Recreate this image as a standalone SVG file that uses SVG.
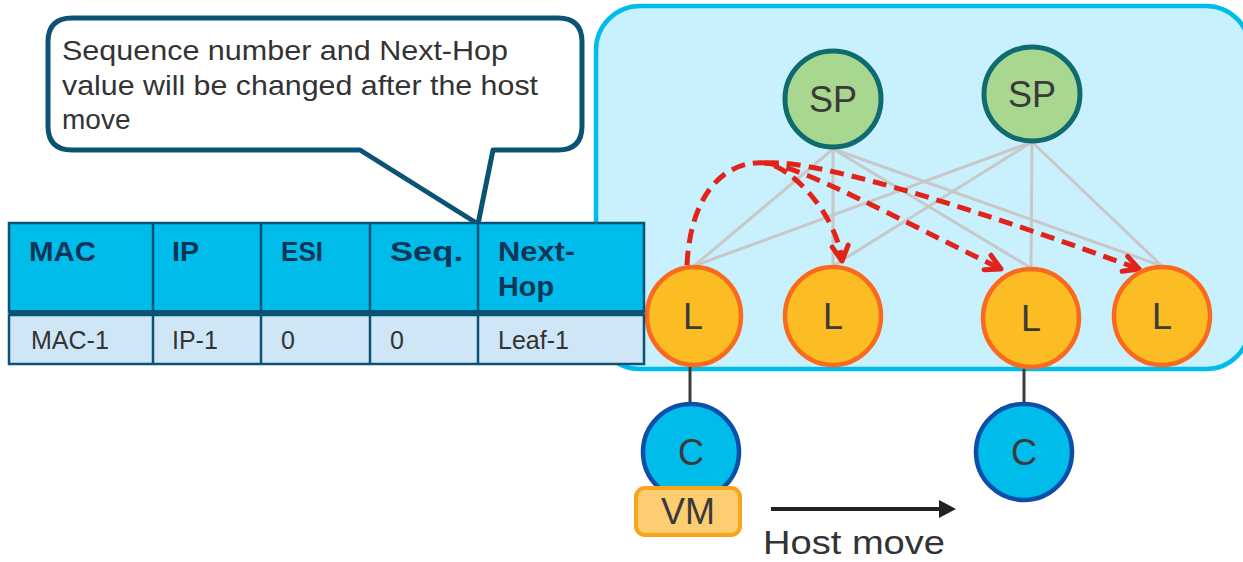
<svg xmlns="http://www.w3.org/2000/svg" width="1243" height="562" viewBox="0 0 1243 562">
<defs>
<style>
.txt{font-family:"Liberation Sans",Arial,sans-serif;fill:#333333}
.node{font-family:"Liberation Sans",Arial,sans-serif;fill:#3a3a3a;font-size:36px;text-anchor:middle}
.gray{stroke:#c8c8c8;stroke-width:3;fill:none}
.red{stroke:#e2231a;stroke-width:5;fill:none;stroke-dasharray:14 8}
.hdr{font-family:"Liberation Sans",Arial,sans-serif;fill:#0d3556;font-size:27px;font-weight:bold}
.cell{font-family:"Liberation Sans",Arial,sans-serif;fill:#333333;font-size:25px}
.sp{fill:#a8d88f;stroke:#0e6b70;stroke-width:5}
.leaf{fill:#fbbc24;stroke:#fa6a1e;stroke-width:4.5}
.cli{fill:#00bceb;stroke:#0b4faa;stroke-width:4.5}
</style>
<marker id="redArrow" markerUnits="userSpaceOnUse" markerWidth="40" markerHeight="40" refX="0" refY="0" orient="auto" overflow="visible">
<path d="M -15 -8 L 0 0 L -15 8" fill="none" stroke="#e2231a" stroke-width="5" stroke-linecap="round" stroke-linejoin="round"/>
</marker>
</defs>

<g id="fabric">
<rect x="596" y="6" width="654" height="363" rx="44" ry="44" fill="#c8f1fd" stroke="#00bceb" stroke-width="4.5"/>
</g>

<g id="connectors">
<line class="gray" x1="833" y1="149" x2="694" y2="266"/>
<line class="gray" x1="833" y1="149" x2="833" y2="266"/>
<line class="gray" x1="833" y1="149" x2="1031" y2="268"/>
<line class="gray" x1="833" y1="149" x2="1162" y2="266"/>
<line class="gray" x1="1032" y1="142" x2="694" y2="266"/>
<line class="gray" x1="1032" y1="142" x2="833" y2="266"/>
<line class="gray" x1="1032" y1="142" x2="1031" y2="268"/>
<line class="gray" x1="1032" y1="142" x2="1162" y2="266"/>
<line x1="690" y1="366" x2="690" y2="402" stroke="#3a3a3a" stroke-width="3"/>
<line x1="1024" y1="368" x2="1024" y2="402" stroke="#3a3a3a" stroke-width="3"/>
<path class="red" d="M 687 265 C 690 200, 720 160, 765 163 C 790 166, 836 212, 842 261" marker-end="url(#redArrow)"/>
<path class="red" d="M 765 163 C 800 165, 900 220, 1001 269" marker-end="url(#redArrow)"/>
<path class="red" d="M 765 163 C 820 158, 1000 218, 1139 269" marker-end="url(#redArrow)"/>
<line x1="771" y1="509" x2="943" y2="509" stroke="#222222" stroke-width="4"/>
<polygon points="939,500 956,509 939,518" fill="#222222"/>
</g>

<g id="sp1"><ellipse class="sp" cx="833" cy="99" rx="48" ry="48"/><text class="node" x="833" y="112">SP</text></g>
<g id="sp2"><ellipse class="sp" cx="1032" cy="94" rx="48" ry="47"/><text class="node" x="1032" y="107">SP</text></g>

<g id="leaf1"><ellipse class="leaf" cx="694" cy="316" rx="47" ry="49"/><text class="node" x="693" y="329">L</text></g>
<g id="leaf2"><ellipse class="leaf" cx="833" cy="316" rx="48" ry="49"/><text class="node" x="833" y="329">L</text></g>
<g id="leaf3"><ellipse class="leaf" cx="1031" cy="318" rx="48" ry="49"/><text class="node" x="1031" y="331">L</text></g>
<g id="leaf4"><ellipse class="leaf" cx="1162" cy="316" rx="48" ry="49"/><text class="node" x="1162" y="329">L</text></g>

<g id="c1"><circle class="cli" cx="691" cy="452" r="48"/><text class="node" x="691" y="465">C</text></g>
<g id="c2"><circle class="cli" cx="1024" cy="452" r="48"/><text class="node" x="1024" y="465">C</text></g>

<g id="vm"><rect x="636" y="488" width="104" height="47" rx="9" ry="9" fill="#fdcd72" stroke="#f9a51a" stroke-width="4"/><text class="node" x="688" y="524">VM</text></g>

<g id="hostmove"><text class="txt" x="763" y="554" font-size="34" textLength="182" lengthAdjust="spacingAndGlyphs">Host move</text></g>

<g id="callout">
<path d="M 72 18 H 558 Q 582 18 582 42 V 126 Q 582 150 558 150 H 493 L 478 224 L 360 150 H 72 Q 48 150 48 126 V 42 Q 48 18 72 18 Z" fill="#ffffff" stroke="#0a5374" stroke-width="5" stroke-linejoin="round"/>
<text class="txt" x="62" y="60" font-size="28" textLength="446" lengthAdjust="spacingAndGlyphs">Sequence number and Next-Hop</text>
<text class="txt" x="62" y="95" font-size="28" textLength="476" lengthAdjust="spacingAndGlyphs">value will be changed after the host</text>
<text class="txt" x="62" y="129" font-size="28">move</text>
</g>

<g id="table">
<rect x="9" y="223" width="635" height="89" fill="#00bceb" stroke="#0a5374" stroke-width="2.5"/>
<rect x="9" y="315" width="635" height="49" fill="#cfe6f6" stroke="#0a5374" stroke-width="2.5"/>
<line x1="9" y1="313" x2="644" y2="313" stroke="#0a5374" stroke-width="6"/>
<g stroke="#0a5374" stroke-width="2.5">
<line x1="153" y1="223" x2="153" y2="364"/>
<line x1="261" y1="223" x2="261" y2="364"/>
<line x1="370" y1="223" x2="370" y2="364"/>
<line x1="478" y1="223" x2="478" y2="364"/>
</g>
<text class="hdr" x="29" y="261" textLength="67" lengthAdjust="spacingAndGlyphs">MAC</text>
<text class="hdr" x="172" y="261" textLength="27" lengthAdjust="spacingAndGlyphs">IP</text>
<text class="hdr" x="281" y="261" textLength="42" lengthAdjust="spacingAndGlyphs">ESI</text>
<text class="hdr" x="390" y="261" textLength="73" lengthAdjust="spacingAndGlyphs">Seq.</text>
<text class="hdr" x="498" y="261" textLength="77" lengthAdjust="spacingAndGlyphs">Next-</text>
<text class="hdr" x="498" y="296" textLength="56" lengthAdjust="spacingAndGlyphs">Hop</text>
<text class="cell" x="31" y="349">MAC-1</text>
<text class="cell" x="172" y="349">IP-1</text>
<text class="cell" x="281" y="349">0</text>
<text class="cell" x="390" y="349">0</text>
<text class="cell" x="498" y="349">Leaf-1</text>
</g>
</svg>
